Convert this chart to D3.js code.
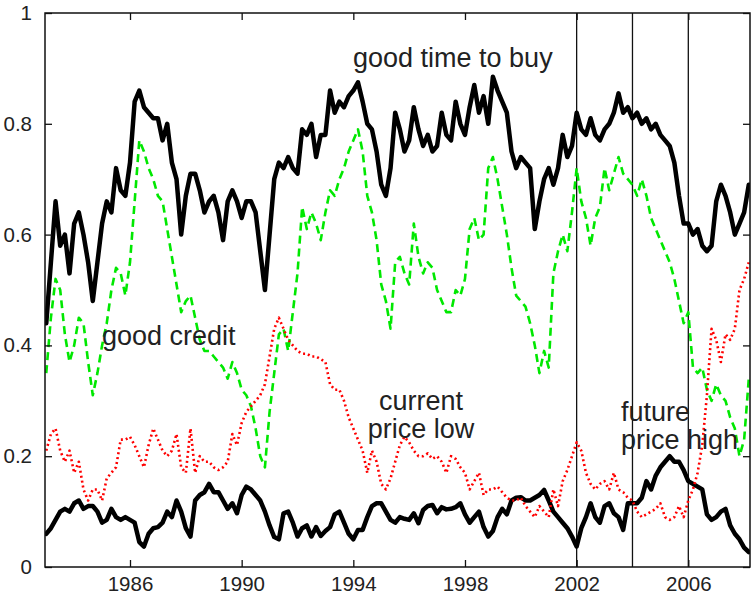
<!DOCTYPE html>
<html>
<head>
<meta charset="utf-8">
<script src="https://cdn.jsdelivr.net/npm/d3@7"></script>
<style>
  html, body { margin: 0; padding: 0; background: #fff; }
  svg { display: block; }
  text { font-family: "Liberation Sans", Arial, Helvetica, sans-serif; fill: #222; }
</style>
</head>
<body>
<svg id="chart" width="752" height="596"></svg>
<script>
// Survey readings, every second month from Jan 1983 to Mar 2008
const months = d3.timeMonth.range(new Date(1983, 0, 1), new Date(2008, 3, 1), 2);

// Share answering "good time to buy" (upper black)
const goodTimeToBuy = [
  0.44, 0.55, 0.66, 0.58, 0.60, 0.53,
  0.62, 0.64, 0.60, 0.55, 0.48, 0.55,
  0.62, 0.66, 0.64, 0.72, 0.68, 0.67,
  0.73, 0.84, 0.86, 0.83, 0.82, 0.81,
  0.81, 0.77, 0.80, 0.73, 0.70, 0.60,
  0.67, 0.71, 0.71, 0.68, 0.64, 0.66,
  0.67, 0.64, 0.59, 0.66, 0.68, 0.66,
  0.63, 0.66, 0.66, 0.64, 0.57, 0.50,
  0.60, 0.70, 0.73, 0.72, 0.74, 0.72,
  0.71, 0.79, 0.78, 0.80, 0.74, 0.78,
  0.78, 0.86, 0.82, 0.84, 0.83, 0.85,
  0.86, 0.875, 0.84, 0.80, 0.79, 0.75,
  0.69, 0.67, 0.72, 0.82, 0.79, 0.75,
  0.77, 0.83, 0.79, 0.76, 0.78, 0.75,
  0.76, 0.82, 0.78, 0.77, 0.84, 0.80,
  0.78, 0.83, 0.87, 0.82, 0.85, 0.80,
  0.885, 0.86, 0.84, 0.82, 0.75, 0.72,
  0.74, 0.73, 0.72, 0.61, 0.66, 0.70,
  0.72, 0.69, 0.72, 0.78, 0.74, 0.76,
  0.82, 0.79, 0.78, 0.81, 0.78, 0.77,
  0.79, 0.80, 0.82, 0.855, 0.82, 0.83,
  0.81, 0.82, 0.80, 0.81, 0.79, 0.80,
  0.78, 0.77, 0.76, 0.73, 0.67, 0.62,
  0.62, 0.60, 0.61, 0.58, 0.57, 0.58,
  0.66, 0.69, 0.67, 0.64, 0.60, 0.62,
  0.64, 0.69
];

// Share answering "good credit" (green dashed)
const goodCredit = [
  0.35, 0.45, 0.52, 0.50, 0.42, 0.37,
  0.40, 0.45, 0.44, 0.37, 0.31, 0.35,
  0.40, 0.44, 0.50, 0.54, 0.53, 0.49,
  0.55, 0.66, 0.77, 0.75, 0.72, 0.70,
  0.67, 0.66, 0.61, 0.56, 0.51, 0.46,
  0.48, 0.49, 0.45, 0.41, 0.39, 0.39,
  0.38, 0.37, 0.36, 0.34, 0.37, 0.35,
  0.32, 0.31, 0.29, 0.25, 0.20, 0.18,
  0.28, 0.35, 0.42, 0.43, 0.39, 0.46,
  0.53, 0.65, 0.61, 0.64, 0.62, 0.59,
  0.64, 0.68, 0.67, 0.70, 0.72, 0.75,
  0.77, 0.79, 0.75, 0.67, 0.64, 0.59,
  0.51, 0.48, 0.43, 0.55, 0.56, 0.53,
  0.51, 0.62, 0.56, 0.53, 0.55, 0.54,
  0.50, 0.48, 0.46, 0.46, 0.50, 0.49,
  0.52, 0.61, 0.63, 0.59, 0.60, 0.72,
  0.74, 0.70, 0.65, 0.60, 0.54, 0.49,
  0.48, 0.47, 0.44, 0.40, 0.35, 0.39,
  0.36, 0.53, 0.57, 0.60, 0.57, 0.64,
  0.72, 0.66, 0.63, 0.58, 0.63, 0.65,
  0.72, 0.68, 0.71, 0.74, 0.71, 0.70,
  0.69, 0.67, 0.70, 0.67, 0.63, 0.61,
  0.59, 0.57, 0.55, 0.52, 0.48, 0.44,
  0.46, 0.36, 0.35, 0.36, 0.32, 0.30,
  0.33, 0.31, 0.30, 0.27, 0.25, 0.20,
  0.23, 0.34
];

// Share answering "current price low" (red dotted)
const currentPriceLow = [
  0.21, 0.24, 0.25, 0.21, 0.19, 0.21,
  0.17, 0.19, 0.14, 0.12, 0.14, 0.14,
  0.12, 0.16, 0.17, 0.18, 0.23, 0.23,
  0.235, 0.22, 0.20, 0.18, 0.22, 0.25,
  0.23, 0.21, 0.20, 0.21, 0.24, 0.18,
  0.17, 0.25, 0.17, 0.20, 0.19, 0.19,
  0.18, 0.175, 0.18, 0.19, 0.24, 0.22,
  0.26, 0.28, 0.29, 0.30, 0.31, 0.33,
  0.38, 0.43, 0.45, 0.43, 0.41, 0.40,
  0.39, 0.385, 0.385, 0.38, 0.38, 0.375,
  0.37, 0.33, 0.32, 0.32, 0.30, 0.27,
  0.25, 0.23, 0.21, 0.17, 0.21, 0.19,
  0.15, 0.14, 0.16, 0.19, 0.22, 0.235,
  0.225, 0.21, 0.20, 0.20, 0.205, 0.195,
  0.20, 0.19, 0.17, 0.20, 0.195, 0.18,
  0.17, 0.14, 0.155, 0.17, 0.13, 0.14,
  0.14, 0.145, 0.135, 0.125, 0.12, 0.12,
  0.125, 0.11, 0.10, 0.09, 0.11, 0.10,
  0.09, 0.14, 0.11, 0.155, 0.175, 0.20,
  0.225, 0.21, 0.17, 0.15, 0.14, 0.15,
  0.155, 0.14, 0.17, 0.14, 0.135, 0.125,
  0.12, 0.10, 0.09, 0.095, 0.10, 0.105,
  0.115, 0.09, 0.085, 0.09, 0.11, 0.09,
  0.12, 0.14, 0.17, 0.22, 0.31, 0.43,
  0.41, 0.37, 0.42, 0.41, 0.43, 0.50,
  0.52, 0.55
];

// Share answering "future price high" (lower black)
const futurePriceHigh = [
  0.06, 0.07, 0.085, 0.10, 0.105, 0.10,
  0.115, 0.12, 0.105, 0.11, 0.11, 0.10,
  0.08, 0.085, 0.105, 0.09, 0.085, 0.09,
  0.085, 0.08, 0.045, 0.037, 0.06, 0.07,
  0.072, 0.08, 0.10, 0.09, 0.12, 0.10,
  0.07, 0.055, 0.12, 0.13, 0.135, 0.15,
  0.135, 0.135, 0.12, 0.105, 0.115, 0.097,
  0.13, 0.145, 0.14, 0.13, 0.12, 0.10,
  0.075, 0.054, 0.05, 0.097, 0.10, 0.08,
  0.055, 0.07, 0.075, 0.055, 0.072, 0.056,
  0.065, 0.072, 0.095, 0.10, 0.08, 0.06,
  0.05, 0.067, 0.067, 0.09, 0.11, 0.115,
  0.115, 0.10, 0.085, 0.08, 0.09, 0.087,
  0.085, 0.097, 0.079, 0.103, 0.11, 0.112,
  0.097, 0.108, 0.104, 0.105, 0.108, 0.115,
  0.095, 0.08, 0.09, 0.10, 0.072, 0.055,
  0.065, 0.09, 0.105, 0.095, 0.12, 0.125,
  0.126, 0.12, 0.12, 0.125, 0.13, 0.139,
  0.12, 0.10, 0.09, 0.08, 0.07, 0.055,
  0.037, 0.07, 0.09, 0.115, 0.09, 0.08,
  0.11, 0.115, 0.097, 0.09, 0.067, 0.115,
  0.115, 0.115, 0.125, 0.155, 0.14, 0.165,
  0.18, 0.19, 0.20, 0.19, 0.19, 0.175,
  0.155, 0.15, 0.145, 0.14, 0.095, 0.085,
  0.09, 0.10, 0.105, 0.075, 0.06, 0.05,
  0.035, 0.027
];

const yearTicks = [1986, 1990, 1994, 1998, 2002, 2006];
const valueTicks = [0, 0.2, 0.4, 0.6, 0.8, 1];
const markerYears = [2002, 2004, 2006];

const W = 752, H = 596;
const plot = { left: 45, top: 13, right: 750, bottom: 567 };

const decimalYear = d => d.getFullYear() + d.getMonth() / 12;

const x = d3.scaleLinear().domain([1982.955, 2008.21]).range([plot.left, plot.right]);
const y = d3.scaleLinear().domain([0, 1]).range([plot.bottom, plot.top]);

const svg = d3.select("#chart");
svg.append("rect").attr("width", W).attr("height", H).attr("fill", "#fff");

svg.append("defs").append("clipPath").attr("id", "plotClip")
  .append("rect")
  .attr("x", plot.left).attr("y", plot.top)
  .attr("width", plot.right - plot.left).attr("height", plot.bottom - plot.top);

const line = values => d3.line()
  .x((d, i) => x(decimalYear(months[i])))
  .y(d => y(d))(values);

const lines = svg.append("g").attr("clip-path", "url(#plotClip)");

// vertical markers
lines.selectAll("line.marker").data(markerYears).join("line")
  .attr("class", "marker")
  .attr("x1", d => x(d)).attr("x2", d => x(d))
  .attr("y1", plot.top).attr("y2", plot.bottom)
  .attr("stroke", "#111").attr("stroke-width", 1.3);

const series = [
  { values: goodTimeToBuy, color: "#000", width: 4.5, dash: null },
  { values: futurePriceHigh, color: "#000", width: 4.5, dash: null },
  { values: goodCredit, color: "#00e800", width: 2.6, dash: "8,5" },
  { values: currentPriceLow, color: "#ff0000", width: 2.6, dash: "2,3" }
];

lines.selectAll("path.series").data(series).join("path")
  .attr("class", "series")
  .attr("d", s => line(s.values))
  .attr("fill", "none")
  .attr("stroke", s => s.color)
  .attr("stroke-width", s => s.width)
  .attr("stroke-linejoin", "round")
  .attr("stroke-linecap", s => s.dash ? "butt" : "round")
  .attr("stroke-dasharray", s => s.dash);

// axes with inward ticks on all four sides
const tickLen = 7;
const fmtVal = v => String(v);

const bottomAxis = d3.axisBottom(x).tickValues(yearTicks).tickFormat(d3.format("d"))
  .tickSizeInner(-tickLen).tickSizeOuter(0);
const topAxis = d3.axisTop(x).tickValues(yearTicks).tickFormat("")
  .tickSizeInner(-tickLen).tickSizeOuter(0);
const leftAxis = d3.axisLeft(y).tickValues(valueTicks).tickFormat(fmtVal)
  .tickSizeInner(-tickLen).tickSizeOuter(0).tickPadding(13);
const rightAxis = d3.axisRight(y).tickValues(valueTicks).tickFormat("")
  .tickSizeInner(-tickLen).tickSizeOuter(0);

function styleAxis(g) {
  g.select(".domain").remove();
  g.selectAll(".tick line").attr("stroke", "#111").attr("stroke-width", 1.3);
  g.selectAll(".tick text")
    .attr("fill", "#222")
    .style("font-size", "20.5px")
    .style("font-family", "'Liberation Sans', Arial, sans-serif");
}

svg.append("g").attr("transform", `translate(0,${plot.bottom})`).call(bottomAxis).call(styleAxis)
  .selectAll(".tick text").attr("y", 24).attr("dy", null);
svg.append("g").attr("transform", `translate(0,${plot.top})`).call(topAxis).call(styleAxis);
svg.append("g").attr("transform", `translate(${plot.left},0)`).call(leftAxis).call(styleAxis);
svg.append("g").attr("transform", `translate(${plot.right},0)`).call(rightAxis).call(styleAxis);

// frame
svg.append("rect")
  .attr("x", plot.left).attr("y", plot.top)
  .attr("width", plot.right - plot.left).attr("height", plot.bottom - plot.top)
  .attr("fill", "none").attr("stroke", "#111").attr("stroke-width", 1.5);

// series labels
const labels = [
  { lines: ["good time to buy"], x: 353, y: 67, anchor: "start" },
  { lines: ["good credit"], x: 102, y: 345, anchor: "start" },
  { lines: ["current", "price low"], x: 421, y: 410, anchor: "middle" },
  { lines: ["future", "price high"], x: 621, y: 421, anchor: "start" }
];

labels.forEach(l => {
  const t = svg.append("text")
    .attr("x", l.x).attr("y", l.y)
    .attr("text-anchor", l.anchor)
    .style("font-size", "27px");
  l.lines.forEach((s, i) => {
    t.append("tspan").attr("x", l.x).attr("dy", i === 0 ? 0 : 27.5).text(s);
  });
});
</script>
</body>
</html>
